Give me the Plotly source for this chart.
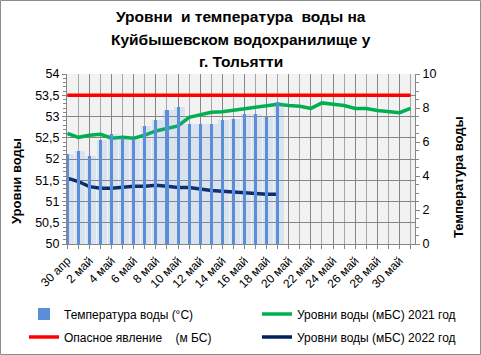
import plotly.graph_objects as go

# ---------------- data ----------------
categories = ["30 апр"] + [f"{d} май" for d in range(1, 32)]

temperature = [5.3, 5.5, 5.2, 6.1, 6.5, 6.25, 6.2, 6.95, 7.3, 7.9,
               8.05, 7.05, 7.05, 7.05, 7.3, 7.35, 7.65, 7.65, 7.45, 8.35]

level_2021 = [52.60, 52.51, 52.56, 52.58, 52.49, 52.51, 52.49, 52.56, 52.66, 52.72,
              52.78, 52.98, 53.04, 53.10, 53.11, 53.15, 53.19, 53.22, 53.27, 53.29,
              53.26, 53.24, 53.19, 53.32, 53.29, 53.26, 53.19, 53.19, 53.14, 53.11,
              53.09, 53.19]

level_2022 = [51.55, 51.47, 51.35, 51.31, 51.31, 51.34, 51.36, 51.36, 51.38, 51.36,
              51.33, 51.33, 51.29, 51.26, 51.24, 51.22, 51.22, 51.19, 51.17, 51.17]

danger_level = [53.5, 53.5, 53.5, 53.5, 53.5, 53.5, 53.5, 53.5, 53.5, 53.5,
                53.5, 53.5, 53.5, 53.5, 53.5, 53.5, 53.5, 53.5, 53.5, 53.5,
                53.5, 53.5, 53.5, 53.5, 53.5, 53.5, 53.5, 53.5, 53.5, 53.5,
                53.5, 53.5]

title_lines = ["Уровни  и температура  воды на", "Куйбышевском водохранилище у", "г. Тольятти"]
name_temp = "Температура воды (°C)"
name_2021 = "Уровни воды (мБС) 2021 год"
name_danger = "Опасное явление    (м БС)"
name_2022 = "Уровни воды (мБС) 2022 год"

idx = list(range(len(categories)))

# ---------------- layout geometry ----------------
W, H = 481, 355
ML, MR, MT, MB = 67, 66, 74, 111
PW, PH = W - ML - MR, H - MT - MB
FONT = "Liberation Sans"

def px_x(x):
    return (x - ML) / PW

def px_y(y):
    return (H - MB - y) / PH

fig = go.Figure()

# halo of bars (gradient look)
fig.add_trace(go.Bar(
    x=idx[:len(temperature)], y=temperature, yaxis="y2",
    width=0.95, offset=-0.35,
    marker=dict(color="rgba(91,142,214,0.16)", line=dict(width=0)),
    showlegend=False, hoverinfo="skip",
))
fig.add_trace(go.Bar(
    x=idx[:len(temperature)], y=temperature, yaxis="y2",
    width=0.28, name=name_temp,
    marker=dict(color="#5A8ED8", line=dict(width=0)),
    legend="legend",
))
fig.add_trace(go.Scatter(
    x=idx, y=level_2021, mode="lines", name=name_2021,
    line=dict(color="#00B050", width=3.5), legend="legend2",
))
fig.add_trace(go.Scatter(
    x=idx, y=danger_level, mode="lines", name=name_danger,
    line=dict(color="#FF0000", width=3.5), legend="legend3",
))
fig.add_trace(go.Scatter(
    x=idx[:len(level_2022)], y=level_2022, mode="lines", name=name_2022,
    line=dict(color="#002060", width=3.5), legend="legend4",
))

grid_dark = "#868686"
grid_light = "#A6A6A6"

legend_common = dict(
    orientation="v", xref="paper", yref="paper",
    xanchor="left", yanchor="middle", bgcolor="rgba(0,0,0,0)",
    font=dict(family=FONT, size=12, color="#000000"),
    borderwidth=0, itemwidth=30,
)

title_y = [16, 39, 61]
title_annotations = [
    dict(text=line, xref="paper", yref="paper",
         x=px_x(240.5), y=px_y(yc), showarrow=False,
         xanchor="center", yanchor="middle",
         font=dict(family=FONT, size=15.5, color="#000000", weight="bold"))
    for line, yc in zip(title_lines, title_y)
]

fig.update_layout(
    width=W, height=H,
    margin=dict(l=ML, r=MR, t=MT, b=MB, autoexpand=False),
    paper_bgcolor="#FFFFFF", plot_bgcolor="#F2F2F2",
    separators=", ",
    barmode="overlay", bargap=0,
    font=dict(family=FONT, size=12, color="#000000"),
    xaxis=dict(
        range=[-0.03, 31.4], tickmode="array",
        tickvals=idx[::2], ticktext=categories[::2],
        tickangle=-45, ticks="outside", ticklen=4, tickcolor=grid_dark,
        showgrid=True, gridcolor=grid_dark, gridwidth=1,
        minor=dict(dtick=1, tick0=0, ticks="outside", ticklen=4, tickcolor=grid_dark,
                   showgrid=True, gridcolor=grid_light, gridwidth=1),
        showline=True, linecolor=grid_dark, linewidth=1,
        zeroline=False, tickfont=dict(family=FONT, size=12),
    ),
    yaxis=dict(
        range=[50, 54], dtick=0.5, tick0=50, tickformat=".1~f",
        ticks="outside", ticklen=4, tickcolor=grid_dark,
        showgrid=True, gridcolor=grid_dark, gridwidth=1,
        minor=dict(dtick=0.1, ticks="outside", ticklen=3, tickcolor=grid_dark, showgrid=False),
        showline=True, linecolor=grid_dark, linewidth=1, zeroline=False,
        tickfont=dict(family=FONT, size=12.5),
    ),
    yaxis2=dict(
        range=[0, 10], dtick=2, tick0=0, overlaying="y", side="right",
        ticks="outside", ticklen=4, tickcolor=grid_dark,
        minor=dict(dtick=0.5, ticks="outside", ticklen=3, tickcolor=grid_dark, showgrid=False),
        showgrid=False, showline=True, linecolor=grid_dark, linewidth=1, zeroline=False,
        tickfont=dict(family=FONT, size=12.5),
    ),
    legend=dict(legend_common, x=px_x(24), y=px_y(314)),
    legend2=dict(legend_common, x=px_x(257), y=px_y(314)),
    legend3=dict(legend_common, x=px_x(24), y=px_y(337)),
    legend4=dict(legend_common, x=px_x(257), y=px_y(337)),
    annotations=title_annotations + [
        dict(text="Уровни воды", xref="paper", yref="paper",
             x=px_x(16), y=px_y(181), textangle=-90, showarrow=False,
             font=dict(family=FONT, size=13, color="#000000", weight="bold"),
             xanchor="center", yanchor="middle"),
        dict(text="Температура воды", xref="paper", yref="paper",
             x=px_x(458), y=px_y(177), textangle=-90, showarrow=False,
             font=dict(family=FONT, size=13, color="#000000", weight="bold"),
             xanchor="center", yanchor="middle"),
    ],
    shapes=[
        dict(type="rect", xref="paper", yref="paper",
             x0=px_x(0.5), x1=px_x(W - 0.5), y0=px_y(H - 0.5), y1=px_y(0.5),
             line=dict(color="#8C8C8C", width=1), fillcolor="rgba(0,0,0,0)",
             layer="below"),
    ],
)

fig.write_html("out.html", config={"displayModeBar": False},
               post_script="document.body.style.margin='0';")
